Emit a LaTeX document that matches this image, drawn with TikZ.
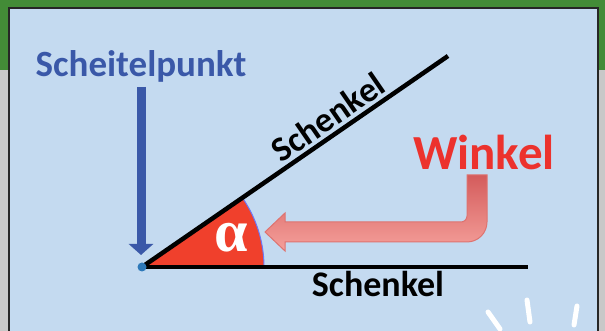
\documentclass[tikz,border=0pt]{standalone}
\usepackage{fontspec}
\setmainfont{Carlito}
\newfontfamily\greekfont{Liberation Serif}
\usetikzlibrary{arrows.meta,positioning,calc}
\definecolor{frame}{RGB}{67,140,55}
\definecolor{side}{RGB}{200,200,200}
\definecolor{board}{RGB}{196,218,240}
\definecolor{vertexblue}{RGB}{58,88,168}
\definecolor{anglered}{RGB}{240,64,44}
\definecolor{wordred}{RGB}{236,50,45}
\definecolor{pinktop}{RGB}{212,92,92}
\definecolor{pinkbot}{RGB}{245,160,155}
\definecolor{pinkline}{RGB}{222,115,112}

\begin{document}
\begin{tikzpicture}[x=1pt,y=1pt,>=Latex,
  leg/.style={line width=4.5pt,black},
  label/.style={font=\bfseries,inner sep=0pt,anchor=base}]
  \useasboundingbox (0,0) rectangle (605,331);
  % background
  \fill[side] (0,0) rectangle (605,331);
  \fill[frame] (0,261) rectangle (605,331);
  \filldraw[fill=board,draw=black!85,line width=2pt] (9,-10) rectangle (598,323);

  \coordinate (vertex) at (142,64);
  \coordinate (lowend) at (528,64);
  \coordinate (upend) at (448,275);

  % angle sector
  \fill[anglered] (vertex) -- ++(0:122) arc[start angle=0,end angle=34.6,radius=122] -- cycle;
  \draw[blue!45!board,line width=1pt] ($(vertex)+(0:122)$) arc[start angle=0,end angle=34.6,radius=122];
  \node[font=\greekfont\bfseries\fontsize{60}{60}\selectfont,text=white,inner sep=0pt] (alpha) at (231,93) {α};

  % legs
  \draw[leg] (vertex) -- (lowend);
  \draw[leg] (vertex) -- node[pos=0.64,sloped,above,inner sep=3pt,font=\bfseries\fontsize{35}{35}\selectfont] (upleg) {Schenkel} (upend);
  \node[label,font=\bfseries\fontsize{36}{36}\selectfont] (lowleg) at (378,34) {Schenkel};

  % vertex
  \node[label,text=vertexblue,font=\bfseries\fontsize{37}{37}\selectfont] (apex) at (141,254) {Scheitelpunkt};
  \coordinate (apexfoot) at (141,244);
  \draw[vertexblue,line width=9pt,-{Triangle[width=24pt,length=11pt]}] (apexfoot) -- (141,76);
  \fill[vertexblue!80!cyan] (vertex) circle[radius=4.5pt];

  % angle word and arrow
  \node[label,text=wordred,font=\bfseries\fontsize{49}{49}\selectfont] (winkel) at (484,161) {Winkel};
  \path[top color=pinktop,bottom color=pinkbot,draw=pinkline,line width=1pt]
    (467,156) -- (467,115) arc[start angle=0,end angle=-90,radius=6] -- (285,109) -- (285,118)
    -- (265,99) -- (285,80) -- (285,89) -- (467,89) arc[start angle=-90,end angle=0,radius=20]
    -- (487,156) -- cycle;

  % marks
  \foreach \a/\b in {{(488,19)/(500,2)},{(527,31)/(530,9)},{(577,25)/(574,6)}}
    \draw[white,line width=5pt,line cap=round] \a -- \b;
\end{tikzpicture}
\end{document}
